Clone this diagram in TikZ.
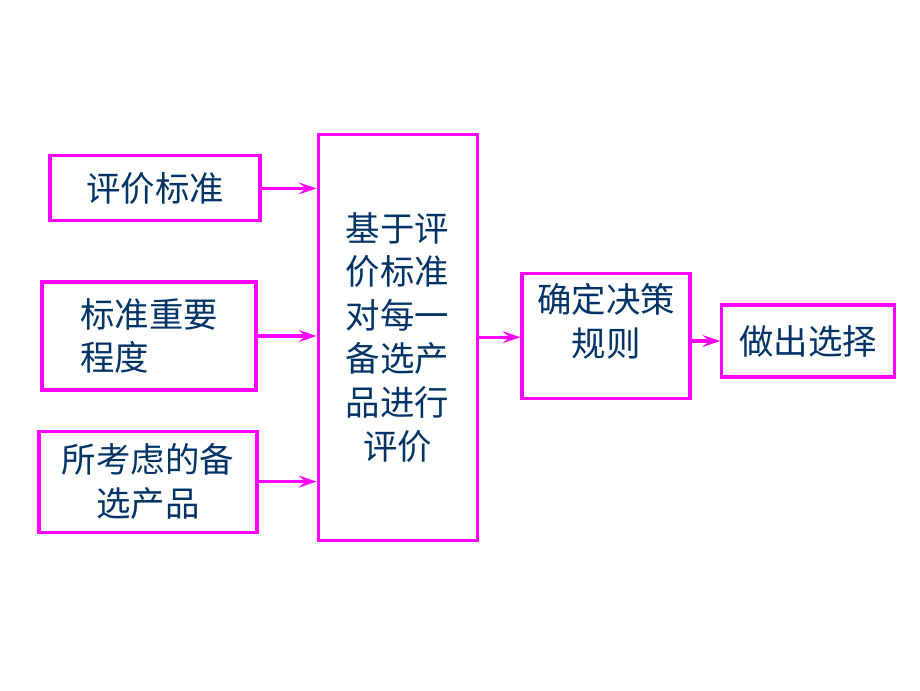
\documentclass[tikz,border=0pt]{standalone}
\usepackage{fontspec}
\newfontfamily\cjk{Noto Sans CJK SC}
\usetikzlibrary{arrows.meta}
\definecolor{boxline}{RGB}{255,0,255}
\definecolor{boxtext}{RGB}{0,51,102}

\begin{document}
\begin{tikzpicture}[>={Stealth[length=4.5mm,width=3mm,inset=1.8mm]},
  every node/.style={font=\cjk\fontsize{24.5}{31}\selectfont,text=boxtext},
  stepbox/.style={draw=boxline,line width=2.2pt,inner sep=0pt,align=center},
  link/.style={->,draw=boxline,line width=2.4pt}]
\useasboundingbox (0,0) rectangle (23,-17.25);
\node[stepbox,minimum width=5.25cm,minimum height=1.625cm] (crit) at (3.875,-4.71) {评价标准};
\node[stepbox,align=left,minimum width=5.35cm,minimum height=2.7cm] (weight) at (3.725,-8.4) {标准重要\\程度};
\node[stepbox,minimum width=5.45cm,minimum height=2.525cm] (alt) at (3.7,-12.04) {所考虑的备\\选产品};
\node[stepbox,minimum width=3.975cm,minimum height=10.15cm] (eval) at (9.94,-8.43) {基于评\\价标准\\对每一\\备选产\\品进行\\评价};
\node[stepbox,minimum width=4.2cm,minimum height=3.125cm] (rule) at (15.15,-8.39) {确定决策\\规则\\[-0.3cm]};
\node[stepbox,minimum width=4.325cm,minimum height=1.8cm] (choice) at (20.21,-8.525) {做出选择};
\draw[link] (crit) -- (crit -| eval.west);
\draw[link] (weight) -- (weight -| eval.west);
\draw[link] (alt) -- (alt -| eval.west);
\draw[link] (eval.east) -- (eval.east -| rule.west);
\draw[link] (rule.east |- choice) -- (choice.west);
\end{tikzpicture}
\end{document}
